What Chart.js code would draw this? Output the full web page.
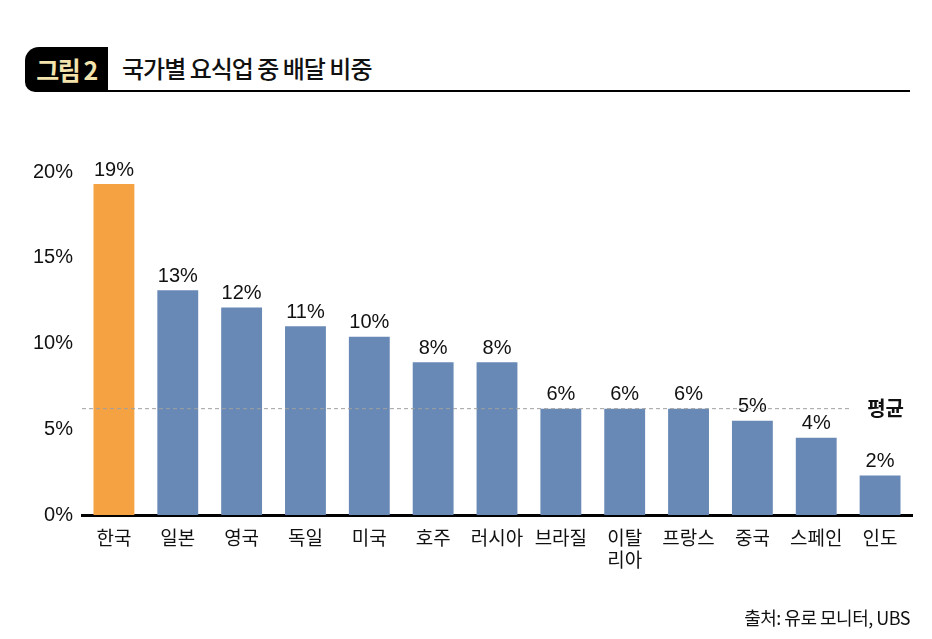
<!DOCTYPE html>
<html>
<head>
<meta charset="utf-8">
<script src="https://cdn.jsdelivr.net/npm/chart.js@4.4.0/dist/chart.umd.min.js"></script>
<style>
  body { margin: 0; background: #fff; font-family: "Noto Sans CJK KR", sans-serif; }
  #wrap { position: relative; width: 932px; height: 639px; overflow: hidden; }
  #tag { position: absolute; left: 25px; top: 47px; width: 83px; height: 45px; background: #000;
         border-radius: 14px 0 0 10px; color: #f3e3ad; font-weight: 700; font-size: 25px;
         line-height: 45px; text-align: center; letter-spacing: -1.5px; }
  #title { position: absolute; left: 122px; top: 50px; font-size: 24px; font-weight: 500; color: #111; letter-spacing: -1px; }
  #rule { position: absolute; left: 108px; top: 90px; width: 802px; height: 2px; background: #000; }
  #source { position: absolute; right: 22px; top: 604px; font-size: 18px; color: #111; letter-spacing: -0.5px; }
  canvas { position: absolute; left: 0; top: 0; }
</style>
</head>
<body>
<div id="wrap">
  <div id="tag">그림 2</div>
  <div id="title">국가별 요식업 중 배달 비중</div>
  <div id="rule"></div>
  <canvas id="chart" width="932" height="639"></canvas>
  <div id="source">출처: 유로 모니터, UBS</div>
</div>
<script>
const countries = ['한국', '일본', '영국', '독일', '미국', '호주', '러시아', '브라질', ['이탈', '리아'], '프랑스', '중국', '스페인', '인도'];
const shares = [19.3, 13.1, 12.1, 11.0, 10.4, 8.9, 8.9, 6.2, 6.2, 6.2, 5.5, 4.5, 2.3];
const shareLabels = ['19%', '13%', '12%', '11%', '10%', '8%', '8%', '6%', '6%', '6%', '5%', '4%', '2%'];
const average = 6.2;
const yTicks = [0, 5, 10, 15, 20];

const barColors = shares.map((v, i) => i === 0 ? '#f5a243' : '#6889b5');

// value labels + average line
const extras = {
    id: 'extras',
    afterDatasetsDraw(chart) {
        const ctx = chart.ctx;
        const area = chart.chartArea;
        const y = chart.scales.y;
        const meta = chart.getDatasetMeta(0);
        ctx.save();
        ctx.font = '20px "Liberation Sans", sans-serif';
        ctx.fillStyle = '#111';
        ctx.textAlign = 'center';
        ctx.textBaseline = 'bottom';
        meta.data.forEach((bar, i) => {
            ctx.fillText(shareLabels[i], bar.x, bar.y - 4);
        });
        // average dashed line
        const ay = y.getPixelForValue(average);
        ctx.strokeStyle = '#a0a0a0';
        ctx.lineWidth = 1;
        ctx.setLineDash([4, 3]);
        ctx.beginPath();
        ctx.moveTo(area.left, ay);
        ctx.lineTo(area.right - 62, ay);
        ctx.stroke();
        ctx.setLineDash([]);
        ctx.font = 'bold 20px "Noto Sans CJK KR", sans-serif';
        ctx.textAlign = 'right';
        ctx.textBaseline = 'middle';
        ctx.fillText('평균', area.right - 8, ay);
        ctx.restore();
    }
};

new Chart(document.getElementById('chart'), {
    type: 'bar',
    data: {
        labels: countries,
        datasets: [{
            data: shares,
            backgroundColor: barColors,
            categoryPercentage: 1,
            barPercentage: 0.64
        }]
    },
    options: {
        responsive: false,
        animation: false,
        layout: { padding: { top: 172, right: 20, left: 0, bottom: 0 } },
        plugins: { legend: { display: false }, tooltip: { enabled: false } },
        scales: {
            x: {
                grid: { display: false, drawTicks: false },
                border: { color: '#000', width: 3 },
                ticks: { color: '#111', font: { size: 19, family: '"Noto Sans CJK KR", sans-serif' }, padding: 11, maxRotation: 0, autoSkip: false },
                afterFit(scale) { scale.height = 124; }
            },
            y: {
                min: 0,
                max: 20,
                afterBuildTicks(scale) { scale.ticks = yTicks.map(v => ({ value: v })); },
                grid: { display: false, drawTicks: false },
                border: { display: false },
                ticks: {
                    color: '#111',
                    font: { size: 20, family: '"Liberation Sans", sans-serif' },
                    padding: 9,
                    callback: v => v + '%'
                },
                afterFit(scale) { scale.width = 82; }
            }
        }
    },
    plugins: [extras]
});
</script>
</body>
</html>
